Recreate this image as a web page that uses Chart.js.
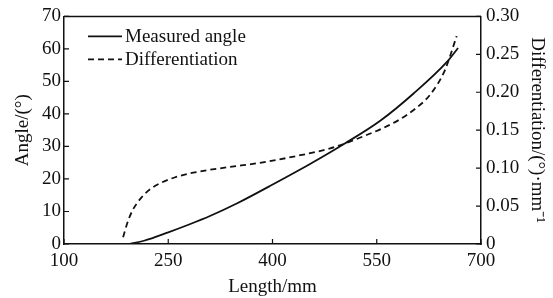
<!DOCTYPE html>
<html>
<head>
<meta charset="utf-8">
<script src="https://cdn.jsdelivr.net/npm/chart.js@4.4.1/dist/chart.umd.min.js"></script>
<style>
  html, body { margin: 0; padding: 0; background: #fff; }
  #wrap { width: 553px; height: 298px; }
</style>
</head>
<body>
<div id="wrap"><canvas id="angleChart"></canvas></div>
<script>
const angleLengths = [195, 215, 250, 280, 310, 350, 396, 454, 504, 555, 603, 651, 667];
const angleValues = [0, 1.0, 3.6, 6.0, 8.6, 12.6, 17.8, 24.6, 30.9, 37.9, 46.3, 56.0, 60.3];

const diffLengths = [185, 192, 199, 206, 214, 225, 238, 260, 286, 334, 382, 440, 483, 531, 579, 605, 627, 648, 665];
const diffValues = [0.009, 0.03, 0.045, 0.055, 0.064, 0.073, 0.08, 0.088, 0.094, 0.101, 0.107, 0.117, 0.126, 0.142, 0.162, 0.178, 0.197, 0.229, 0.274];

const seriesLabels = ["Measured angle", "Differentiation"];
const xTicks = [100, 250, 400, 550, 700];

const FONT = "'Liberation Serif', 'Times New Roman', serif";
const ink = "#111";

function toPoints(xs, ys) {
  return xs.map((x, i) => ({ x: x, y: ys[i] }));
}

// inward ticks, top border and the legend inside the plot
const framePlugin = {
  id: "frame",
  afterDraw(chart) {
    const ctx = chart.ctx;
    const area = chart.chartArea;
    const { x, y, y2 } = chart.scales;
    ctx.save();
    ctx.strokeStyle = ink;
    ctx.lineWidth = 1.5;
    ctx.beginPath();
    ctx.moveTo(area.left, area.top);
    ctx.lineTo(area.right, area.top);
    ctx.stroke();

    ctx.lineWidth = 1.2;
    ctx.beginPath();
    x.ticks.forEach((t) => {
      const px = x.getPixelForValue(t.value);
      ctx.moveTo(px, area.bottom);
      ctx.lineTo(px, area.bottom - 5);
    });
    y.ticks.forEach((t) => {
      const py = y.getPixelForValue(t.value);
      ctx.moveTo(area.left, py);
      ctx.lineTo(area.left + 5, py);
    });
    y2.ticks.forEach((t) => {
      const py = y2.getPixelForValue(t.value);
      ctx.moveTo(area.right, py);
      ctx.lineTo(area.right - 5, py);
    });
    ctx.stroke();

    // legend
    const lx = area.left + 24;
    const ly = area.top + 20;
    ctx.font = "19px " + FONT;
    ctx.fillStyle = ink;
    ctx.textBaseline = "middle";
    chart.data.datasets.forEach((ds, i) => {
      const yy = ly + i * 23;
      ctx.lineWidth = 1.8;
      ctx.setLineDash(ds.borderDash || []);
      ctx.beginPath();
      ctx.moveTo(lx, yy);
      ctx.lineTo(lx + 34, yy);
      ctx.stroke();
      ctx.setLineDash([]);
      ctx.fillText(ds.label, lx + 37, yy + 1);
    });
    ctx.restore();
  },
};

new Chart(document.getElementById("angleChart"), {
  type: "line",
  data: {
    datasets: [
      {
        label: seriesLabels[0],
        data: toPoints(angleLengths, angleValues),
        yAxisID: "y",
        borderColor: ink,
        borderWidth: 1.8,
        pointRadius: 0,
        cubicInterpolationMode: "monotone",
        fill: false,
      },
      {
        label: seriesLabels[1],
        data: toPoints(diffLengths, diffValues),
        yAxisID: "y2",
        borderColor: ink,
        borderWidth: 1.8,
        borderDash: [6, 4],
        pointRadius: 0,
        cubicInterpolationMode: "monotone",
        fill: false,
      },
    ],
  },
  options: {
    responsive: true,
    maintainAspectRatio: false,
    animation: false,
    layout: { padding: { top: 15, left: 0, right: 0, bottom: 0 } },
    plugins: {
      legend: { display: false },
      tooltip: { enabled: false },
    },
    scales: {
      x: {
        type: "linear",
        min: 100,
        max: 700,
        afterBuildTicks: (scale) => {
          scale.ticks = xTicks.map((v) => ({ value: v }));
        },
        afterFit: (scale) => {
          scale.height = 54;
        },
        grid: { drawOnChartArea: false, drawTicks: false },
        border: { display: true, color: ink, width: 1.5 },
        ticks: {
          color: ink,
          padding: 6,
          maxRotation: 0,
          font: { family: FONT, size: 19 },
        },
        title: {
          display: true,
          text: "Length/mm",
          color: ink,
          padding: { top: 0, bottom: 0 },
          font: { family: FONT, size: 19 },
        },
      },
      y: {
        position: "left",
        min: 0,
        max: 70,
        ticks: {
          stepSize: 10,
          color: ink,
          padding: 3,
          font: { family: FONT, size: 19 },
        },
        afterFit: (scale) => {
          scale.width = 64;
        },
        grid: { drawOnChartArea: false, drawTicks: false },
        border: { display: true, color: ink, width: 1.5 },
        title: {
          display: true,
          text: "Angle/(°)",
          color: ink,
          padding: { top: 12, bottom: 0 },
          font: { family: FONT, size: 19 },
        },
      },
      y2: {
        position: "right",
        min: 0,
        max: 0.3,
        ticks: {
          stepSize: 0.05,
          color: ink,
          padding: 5,
          font: { family: FONT, size: 19 },
          callback: (v) => (v === 0 ? "0" : v.toFixed(2)),
        },
        afterFit: (scale) => {
          scale.width = 72;
        },
        grid: { drawOnChartArea: false, drawTicks: false },
        border: { display: true, color: ink, width: 1.5 },
        title: {
          display: true,
          text: "Differentiation/(°)·mm⁻¹",
          color: ink,
          padding: { top: 5, bottom: 0 },
          font: { family: FONT, size: 19 },
        },
      },
    },
  },
  plugins: [framePlugin],
});
</script>
</body>
</html>
